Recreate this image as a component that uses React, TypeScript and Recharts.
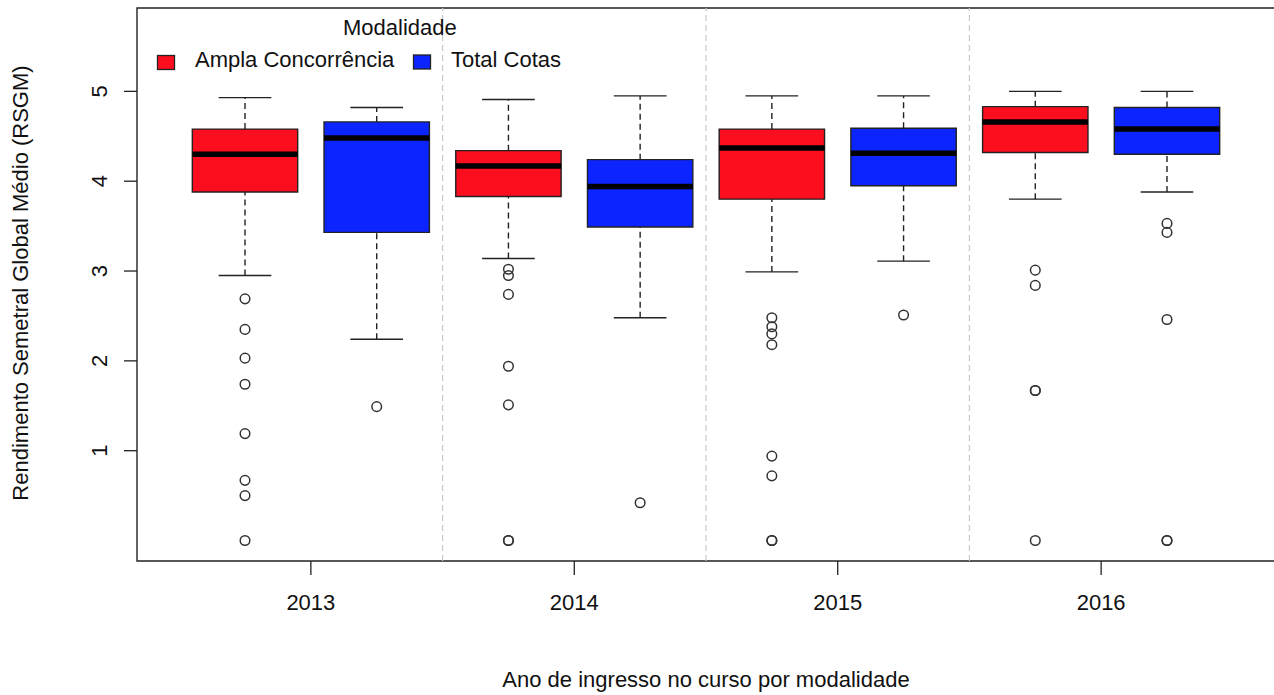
import * as React from "react"
import {
  ComposedChart,
  XAxis,
  YAxis,
  Scatter,
  ReferenceArea,
  ReferenceLine,
} from "recharts"

// categories
const years = ["2013", "2014", "2015", "2016"]
const modalidades = ["Ampla Concorrência", "Total Cotas"]
const colors = ["#FC0E1E", "#0C24FF"]

// Ampla Concorrência (red) box stats per year
const amplaLow = [2.95, 3.14, 2.99, 3.8]
const amplaQ1 = [3.88, 3.83, 3.8, 4.32]
const amplaMedian = [4.3, 4.17, 4.37, 4.66]
const amplaQ3 = [4.58, 4.34, 4.58, 4.83]
const amplaHigh = [4.93, 4.91, 4.95, 5.0]
const amplaOutliers = [
  [2.69, 2.35, 2.03, 1.74, 1.19, 0.67, 0.5, 0],
  [3.02, 2.95, 2.74, 1.94, 1.51, 0, 0],
  [2.48, 2.38, 2.3, 2.18, 0.94, 0.72, 0, 0],
  [3.01, 2.84, 1.67, 1.67, 0],
]

// Total Cotas (blue) box stats per year
const cotasLow = [2.24, 2.48, 3.11, 3.88]
const cotasQ1 = [3.43, 3.49, 3.95, 4.3]
const cotasMedian = [4.48, 3.94, 4.31, 4.58]
const cotasQ3 = [4.66, 4.24, 4.59, 4.82]
const cotasHigh = [4.82, 4.95, 4.95, 5.0]
const cotasOutliers = [[1.49], [0.42], [2.51], [3.53, 3.43, 2.46, 0, 0]]

const yTicks = [1, 2, 3, 4, 5]

const FONT = "'Liberation Sans', Arial, Helvetica, sans-serif"
const INK = "#222"

// box positions 1..8, red then blue inside each year
const boxes = years.flatMap((_, i) => [
  { pos: 2 * i + 1, fill: colors[0], low: amplaLow[i], q1: amplaQ1[i], med: amplaMedian[i], q3: amplaQ3[i], high: amplaHigh[i] },
  { pos: 2 * i + 2, fill: colors[1], low: cotasLow[i], q1: cotasQ1[i], med: cotasMedian[i], q3: cotasQ3[i], high: cotasHigh[i] },
])

const outlierPoints = years.flatMap((_, i) => [
  ...amplaOutliers[i].map((v) => ({ x: 2 * i + 1, y: v })),
  ...cotasOutliers[i].map((v) => ({ x: 2 * i + 2, y: v })),
])

const yearTicks = years.map((_, i) => 2 * i + 1.5)
const separators = years.slice(1).map((_, i) => 2 * i + 2.5)

const XTick = (props: any) => {
  const { x, y, payload } = props
  const idx = yearTicks.indexOf(payload.value)
  return (
    <text x={x} y={y + 34.5} textAnchor="middle" fontSize={22} fontFamily={FONT} fill="#111">
      {years[idx]}
    </text>
  )
}

const YTick = (props: any) => {
  const { x, y, payload } = props
  const tx = x - 17
  return (
    <text
      x={tx}
      y={y}
      transform={`rotate(-90, ${tx}, ${y})`}
      textAnchor="middle"
      fontSize={22}
      fontFamily={FONT}
      fill="#111"
    >
      {payload.value}
    </text>
  )
}

const OpenCircle = (props: any) => (
  <circle cx={props.cx} cy={props.cy} r={4.8} fill="none" stroke="#333" strokeWidth={1.5} />
)

export default function App() {
  return (
    <div
      style={{
        position: "absolute",
        left: 0,
        top: 0,
        width: 1274,
        height: 695,
        overflow: "hidden",
        background: "#fff",
      }}
    >
      <ComposedChart
        width={1290}
        height={695}
        margin={{ top: 8, right: 15, left: 77, bottom: 74 }}
      >
        <XAxis
          type="number"
          dataKey="x"
          domain={[0.18, 8.82]}
          ticks={yearTicks}
          allowDataOverflow
          axisLine={false}
          tickLine={{ stroke: INK, strokeWidth: 1.3 }}
          tickSize={14}
          tickMargin={0}
          height={60}
          tick={<XTick />}
        />
        <YAxis
          type="number"
          dataKey="y"
          domain={[-0.228, 5.928]}
          ticks={yTicks}
          allowDataOverflow
          axisLine={false}
          tickLine={{ stroke: INK, strokeWidth: 1.3 }}
          tickSize={13}
          tickMargin={0}
          width={60}
          tick={<YTick />}
        />

        {separators.map((s) => (
          <ReferenceLine key={"sep" + s} x={s} stroke="#c8c8c8" strokeWidth={1.2} strokeDasharray="6 4" />
        ))}

        {boxes.map((b) => (
          <ReferenceLine
            key={"wu" + b.pos}
            segment={[{ x: b.pos, y: b.q3 }, { x: b.pos, y: b.high }]}
            stroke={INK}
            strokeWidth={1.4}
            strokeDasharray="6 4"
          />
        ))}
        {boxes.map((b) => (
          <ReferenceLine
            key={"wl" + b.pos}
            segment={[{ x: b.pos, y: b.low }, { x: b.pos, y: b.q1 }]}
            stroke={INK}
            strokeWidth={1.4}
            strokeDasharray="6 4"
          />
        ))}
        {boxes.map((b) => (
          <ReferenceLine
            key={"su" + b.pos}
            segment={[{ x: b.pos - 0.2, y: b.high }, { x: b.pos + 0.2, y: b.high }]}
            stroke={INK}
            strokeWidth={1.4}
          />
        ))}
        {boxes.map((b) => (
          <ReferenceLine
            key={"sl" + b.pos}
            segment={[{ x: b.pos - 0.2, y: b.low }, { x: b.pos + 0.2, y: b.low }]}
            stroke={INK}
            strokeWidth={1.4}
          />
        ))}
        {boxes.map((b) => (
          <ReferenceArea
            key={"box" + b.pos}
            x1={b.pos - 0.4}
            x2={b.pos + 0.4}
            y1={b.q1}
            y2={b.q3}
            fill={b.fill}
            fillOpacity={1}
            stroke={INK}
            strokeWidth={1.4}
          />
        ))}
        {boxes.map((b) => (
          <ReferenceLine
            key={"med" + b.pos}
            segment={[{ x: b.pos - 0.4, y: b.med }, { x: b.pos + 0.4, y: b.med }]}
            stroke="#000"
            strokeWidth={5.5}
          />
        ))}

        {/* plot frame */}
        <ReferenceArea
          x1={0.18}
          x2={8.82}
          y1={-0.228}
          y2={5.928}
          fill="none"
          stroke={INK}
          strokeWidth={1.4}
          ifOverflow="visible"
        />

        <Scatter
          data={outlierPoints}
          dataKey="y"
          shape={<OpenCircle />}
          isAnimationActive={false}
        />
      </ComposedChart>

      <svg
        width={1274}
        height={695}
        style={{ position: "absolute", left: 0, top: 0, pointerEvents: "none" }}
        fontFamily={FONT}
        fontSize={22}
      >
        <text x={343} y={35} fill="#111">Modalidade</text>
        <rect x={157.5} y={55.5} width={17} height={14} fill={colors[0]} stroke={INK} strokeWidth={1.3} />
        <text x={195} y={66.5} fill="#111">{modalidades[0]}</text>
        <rect x={413.5} y={55} width={17} height={14} fill={colors[1]} stroke={INK} strokeWidth={1.3} />
        <text x={451} y={66.5} fill="#111">{modalidades[1]}</text>

        <text x={706} y={687} textAnchor="middle" fill="#111">
          Ano de ingresso no curso por modalidade
        </text>
        <text
          x={28}
          y={283}
          transform="rotate(-90, 28, 283)"
          textAnchor="middle"
          fill="#111"
        >
          Rendimento Semetral Global Médio (RSGM)
        </text>
      </svg>
    </div>
  )
}
